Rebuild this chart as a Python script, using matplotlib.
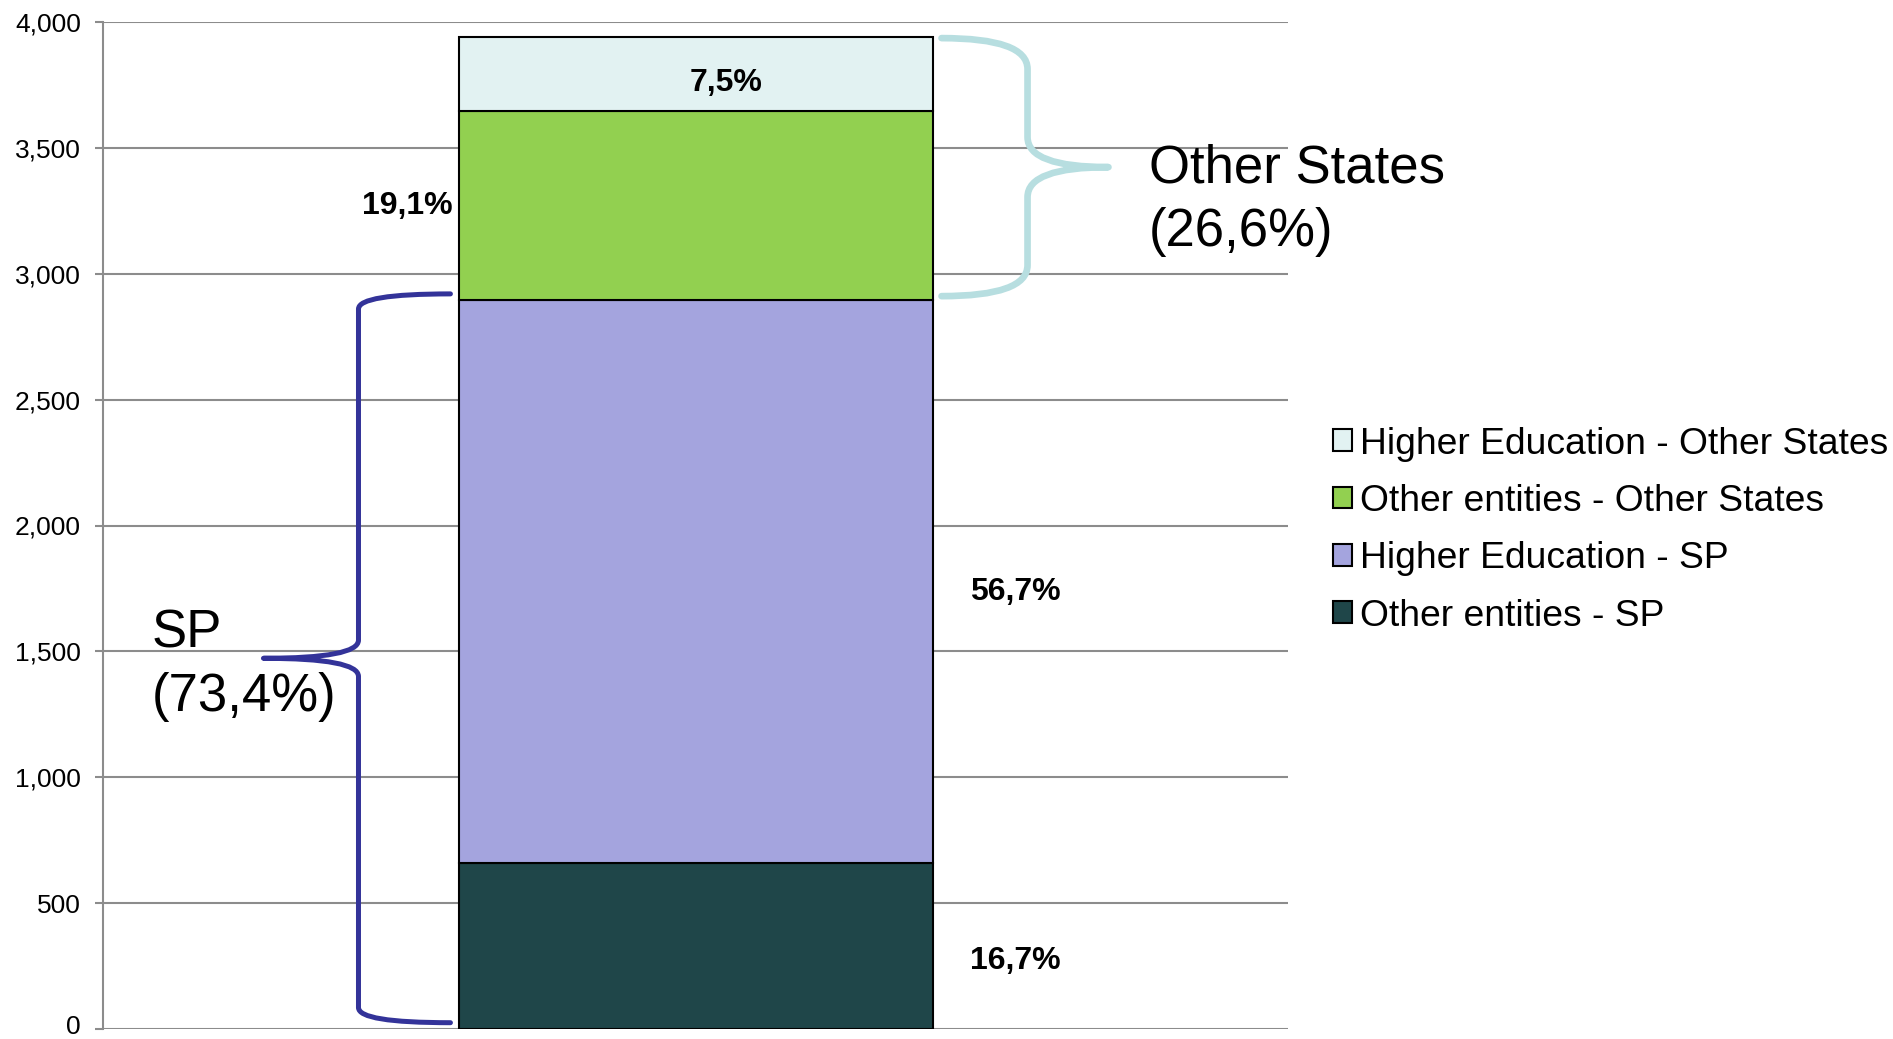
import matplotlib
matplotlib.use("Agg")
import matplotlib.pyplot as plt
from matplotlib.path import Path
from matplotlib.patches import PathPatch, Patch
from matplotlib.ticker import FuncFormatter
import matplotlib.transforms as mtransforms
import numpy as np

plt.rcParams['font.family'] = ['Liberation Sans', 'DejaVu Sans']

# ---- data ----
series = ["Other entities - SP", "Higher Education - SP",
          "Other entities - Other States", "Higher Education - Other States"]
values = [658, 2237, 752, 294]
pct_labels = ["16,7%", "56,7%", "19,1%", "7,5%"]
colors = ["#1F4649", "#A4A4DE", "#92D050", "#E2F2F2"]
group_labels = ["SP\n(73,4%)", "Other States\n(26,6%)"]
yticks = [0, 500, 1000, 1500, 2000, 2500, 3000, 3500, 4000]

fig = plt.figure(figsize=(18.93, 10.39), dpi=100)
ax = fig.add_axes([103/1893, 10/1039, (1288-103)/1893, (1029-22)/1039])

bottoms = np.concatenate([[0], np.cumsum(values)[:-1]])
tops = np.cumsum(values)
for v, b, c, s in zip(values, bottoms, colors, series):
    ax.bar(0, v, bottom=b, width=0.4, color=c, edgecolor="black",
           linewidth=1.5, label=s, zorder=3)

ax.set_xlim(-0.5, 0.5)
ax.set_ylim(0, 4000)
ax.set_yticks(yticks)
ax.yaxis.set_major_formatter(FuncFormatter(lambda v, p: f"{int(v):,}"))
ax.set_xticks([])
ax.grid(axis="y", color="#8c8c8c", linewidth=1.5, zorder=0)
for s in ["top", "right", "bottom"]:
    ax.spines[s].set_visible(False)
ax.spines["left"].set_color("#8c8c8c")
ax.spines["left"].set_linewidth(1.5)
ax.tick_params(axis="y", colors="#8c8c8c", length=6, width=1.5, labelsize=19,
               labelcolor="black", pad=10)
# nudge the "0" label up slightly so it is not cut by the figure edge
lbl0 = ax.get_yticklabels()[0]
lbl0.set_transform(lbl0.get_transform() +
                   mtransforms.ScaledTranslation(0, 4/100, fig.dpi_scale_trans))

# percentage labels
lab_kw = dict(fontsize=23, fontweight="bold", color="black", va="center", zorder=5)
mid = bottoms + np.array(values) / 2
ax.text(0.27, mid[0] - 60, pct_labels[0], ha="center", **lab_kw)
ax.text(0.27, mid[1] - 40, pct_labels[1], ha="center", **lab_kw)
ax.text(-0.205, mid[2], pct_labels[2], ha="right", **lab_kw)
ax.text(0.026, mid[3] - 35, pct_labels[3], ha="center", **lab_kw)


def brace(x_end, x_v, x_tip, y_top, y_bot, dy1, dy2, color, lw):
    y_mid = (y_top + y_bot) / 2
    verts = [(x_end, y_top), (x_v, y_top), (x_v, y_top - dy1),
             (x_v, y_mid + dy2),
             (x_v, y_mid), (x_tip, y_mid),
             (x_v, y_mid), (x_v, y_mid - dy2),
             (x_v, y_bot + dy1),
             (x_v, y_bot), (x_end, y_bot)]
    codes = [Path.MOVETO, Path.CURVE3, Path.CURVE3,
             Path.LINETO,
             Path.CURVE3, Path.CURVE3,
             Path.CURVE3, Path.CURVE3,
             Path.LINETO,
             Path.CURVE3, Path.CURVE3]
    p = PathPatch(Path(verts, codes), facecolor="none", edgecolor=color,
                  linewidth=lw, capstyle="round", joinstyle="round",
                  clip_on=False, zorder=4)
    ax.add_patch(p)

sp_total = tops[1]
all_total = tops[3]
brace(-0.2068, -0.2844, -0.3646, sp_total + 25, 25, 60, 72, "#333399", 3.6)
brace(0.2076, 0.2802, 0.3485, all_total - 5, sp_total + 16, 123, 119, "#B7DEE0", 4.8)

ax.text(-0.459, 1445, group_labels[0], fontsize=38, ha="left", va="center",
        linespacing=1.33, clip_on=False, zorder=5)
ax.text(0.3823, 3292, group_labels[1], fontsize=38, ha="left", va="center",
        linespacing=1.33, clip_on=False, zorder=5)

handles = [Patch(facecolor=c, edgecolor="black", linewidth=1.5) for c in colors][::-1]
fig.legend(handles, series[::-1], loc="center left",
           bbox_to_anchor=(1333/1893, 1 - 530/1039), frameon=False,
           fontsize=26.8, borderpad=0, borderaxespad=0, handlelength=0.52,
           handleheight=0.52, handletextpad=0.2, labelspacing=0.6)

fig.savefig("out.png", dpi=100)
